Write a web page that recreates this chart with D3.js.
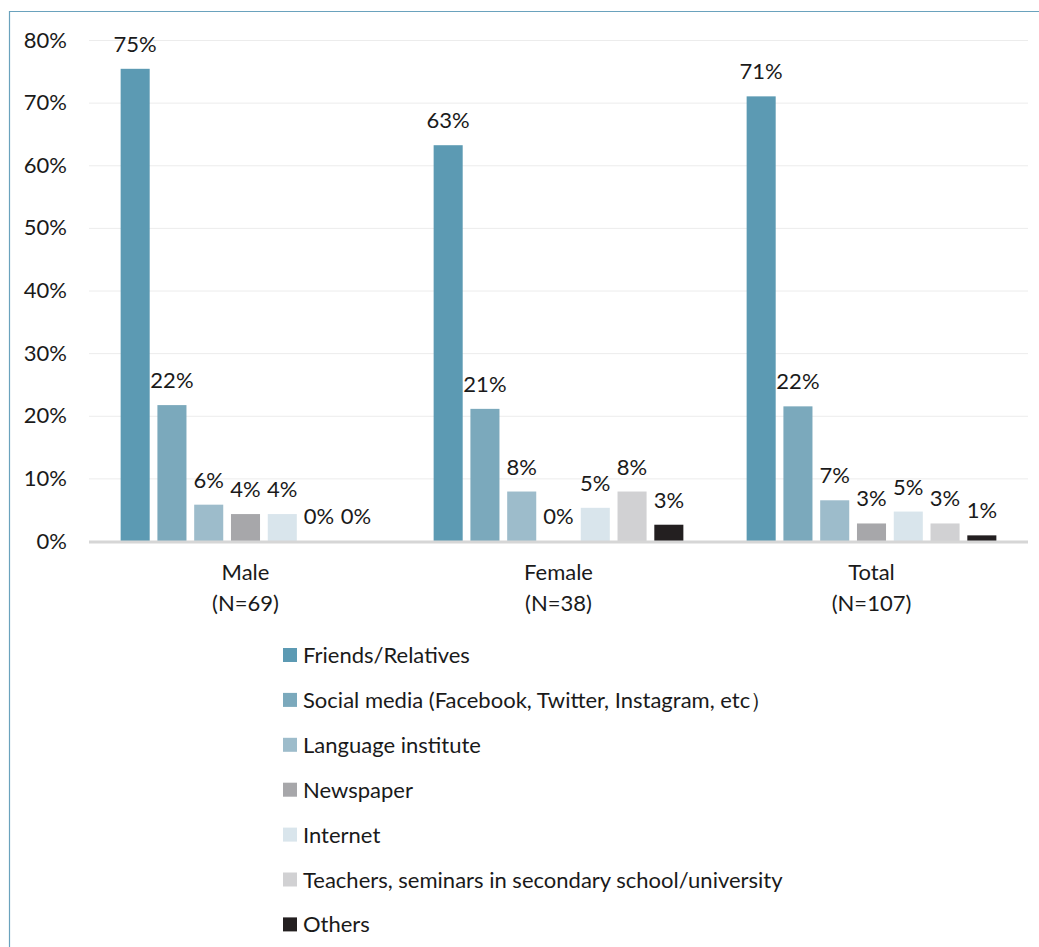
<!DOCTYPE html>
<html>
<head>
<meta charset="utf-8">
<script src="https://cdn.jsdelivr.net/npm/d3@7"></script>
<style>
  html, body { margin: 0; padding: 0; background: #fff; }
  svg { display: block; font-family: Lato, "Open Sans", sans-serif; }
</style>
</head>
<body>
<svg id="chart" width="1039" height="947"></svg>
<script>
// Where respondents heard about the programme, by gender (share of respondents, %)
const groups = ["Male", "Female", "Total"];
const groupN = ["(N=69)", "(N=38)", "(N=107)"];
const sources = [
  "Friends/Relatives",
  "Social media (Facebook, Twitter, Instagram, etc\uFF09",
  "Language institute",
  "Newspaper",
  "Internet",
  "Teachers, seminars in secondary school/university",
  "Others"
];
const maleValues   = [75.4, 21.7, 5.8, 4.3, 4.3, 0, 0];
const femaleValues = [63.2, 21.1, 7.9, 0, 5.3, 7.9, 2.6];
const totalValues  = [71.0, 21.5, 6.5, 2.8, 4.7, 2.8, 0.9];
const yTicks = [0, 10, 20, 30, 40, 50, 60, 70, 80];
const colors = ["#5c9ab3", "#7ba9bc", "#9dbccb", "#a7a7aa", "#d9e5ec", "#d1d1d3", "#231f20"];

const seriesByGroup = [maleValues, femaleValues, totalValues];
const fontSize = 22;
const textColor = "#1a1a1a";

const svg = d3.select("#chart");
const width = 1039, height = 947;
const plotLeft = 89, plotRight = 1028, plotTop = 40, plotBottom = 541;

// frame lines
svg.append("line").attr("x1", 9.5).attr("x2", 9.5).attr("y1", 11).attr("y2", height)
  .attr("stroke", "#6aa2bd").attr("stroke-width", 1.2);
svg.append("line").attr("x1", 9).attr("x2", width).attr("y1", 11.5).attr("y2", 11.5)
  .attr("stroke", "#6aa2bd").attr("stroke-width", 1.2);

const y = d3.scaleLinear().domain([0, 80]).range([plotBottom, plotTop]);
const x0 = d3.scaleBand().domain(groups).range([plotLeft, plotRight]).padding(0);
const x1 = d3.scaleBand().domain(sources).range([0, x0.bandwidth()])
  .paddingInner(0.21).paddingOuter(0.86);

// gridlines
svg.append("g").selectAll("line").data(yTicks.filter(t => t > 0)).join("line")
  .attr("x1", plotLeft).attr("x2", plotRight)
  .attr("y1", d => y(d) + 0.5).attr("y2", d => y(d) + 0.5)
  .attr("stroke", "#ececec").attr("stroke-width", 1);

// y axis labels
const yAxis = d3.axisLeft(y).tickValues(yTicks).tickSize(0).tickPadding(0)
  .tickFormat(d => d + "%");
svg.append("g").attr("transform", "translate(67,0)").call(yAxis)
  .call(g => g.select(".domain").remove())
  .call(g => g.selectAll("text").attr("font-size", fontSize).attr("fill", textColor)
    .attr("font-family", "Lato, sans-serif"));

// bars and value labels
const gGroups = svg.append("g").selectAll("g").data(groups).join("g")
  .attr("transform", d => `translate(${x0(d)},0)`);

gGroups.each(function(g, gi) {
  const vals = seriesByGroup[gi];
  const sel = d3.select(this);
  sel.selectAll("rect").data(vals).join("rect")
    .attr("x", (v, i) => x1(sources[i]))
    .attr("width", x1.bandwidth())
    .attr("y", v => y(v))
    .attr("height", v => plotBottom - y(v))
    .attr("fill", (v, i) => colors[i]);
  sel.selectAll("text.val").data(vals).join("text")
    .attr("class", "val")
    .attr("x", (v, i) => x1(sources[i]) + x1.bandwidth() / 2)
    .attr("y", v => y(v) - 17)
    .attr("text-anchor", "middle")
    .attr("font-size", fontSize)
    .attr("fill", textColor)
    .text(v => Math.round(v) + "%");
});

// baseline
svg.append("line").attr("x1", plotLeft).attr("x2", plotRight)
  .attr("y1", plotBottom + 1).attr("y2", plotBottom + 1)
  .attr("stroke", "#d6d6d6").attr("stroke-width", 3);

// category labels (two lines each)
const catX = d => x0(d) + x0.bandwidth() / 2;
const cat = svg.append("g");
cat.selectAll("text.name").data(groups).join("text")
  .attr("class", "name")
  .attr("x", catX).attr("y", 580)
  .attr("text-anchor", "middle")
  .attr("font-size", fontSize).attr("fill", textColor)
  .text(d => d);
cat.selectAll("text.n").data(groups).join("text")
  .attr("class", "n")
  .attr("x", catX).attr("y", 611)
  .attr("text-anchor", "middle")
  .attr("font-size", fontSize).attr("fill", textColor)
  .text((d, i) => groupN[i]);

// legend
const legend = svg.append("g").selectAll("g").data(sources).join("g")
  .attr("transform", (d, i) => `translate(283,${655 + i * 44.9})`);
legend.append("rect").attr("x", 0).attr("y", -7).attr("width", 14).attr("height", 14)
  .attr("fill", (d, i) => colors[i]);
legend.append("text").attr("x", 20).attr("y", 8)
  .attr("font-size", fontSize).attr("fill", textColor).text(d => d);
</script>
</body>
</html>
